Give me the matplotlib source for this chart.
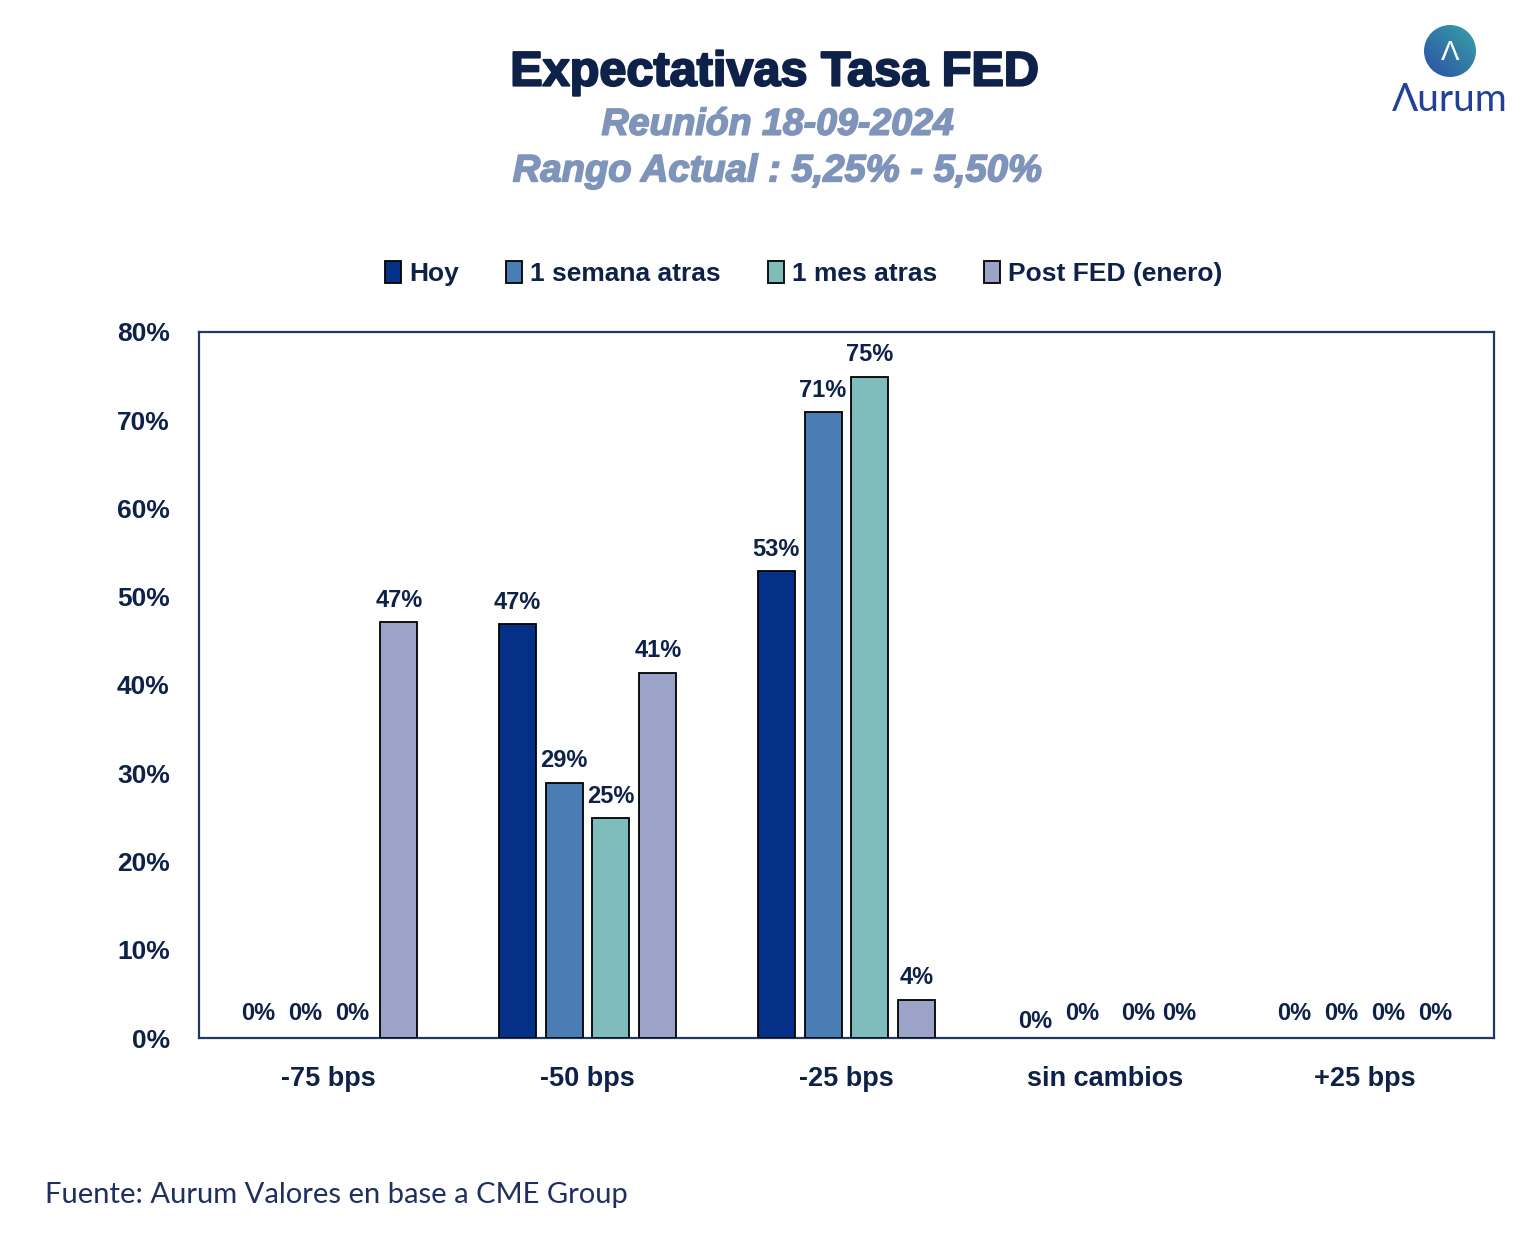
import matplotlib
matplotlib.use("Agg")
import matplotlib.pyplot as plt
import matplotlib.patheffects as pe
import numpy as np
from matplotlib.patches import Circle, Patch

# datos
categorias = ['-75 bps', '-50 bps', '-25 bps', 'sin cambios', '+25 bps']
series = ['Hoy', '1 semana atras', '1 mes atras', 'Post FED (enero)']
hoy = [0.0, 46.9, 52.9, 0.0, 0.0]
semana = [0.0, 28.9, 70.9, 0.0, 0.0]
mes = [0.0, 24.9, 74.9, 0.0, 0.0]
post_fed = [47.1, 41.4, 4.3, 0.0, 0.0]
etiquetas_y = ['0%', '10%', '20%', '30%', '40%', '50%', '60%', '70%', '80%']

colores = ['#043087', '#497DB4', '#7FBCBC', '#9BA3C9']
navy = '#0E2149'
plt.rcParams['font.family'] = ['Liberation Sans', 'DejaVu Sans']

fig = plt.figure(figsize=(15.4, 12.6), dpi=100)
ax = fig.add_axes([199/1540, 1-1038/1260, 1295/1540, 706/1260])

x = np.arange(len(categorias))
ancho = 0.143
paso = 0.181
valores = [hoy, semana, mes, post_fed]
for i, (nombre, vals) in enumerate(zip(series, valores)):
    pos = x + (i - 1.5) * paso
    barras = ax.bar(pos, vals, ancho, color=colores[i], edgecolor='black', linewidth=1.3,
                    zorder=3)
    for b, v in zip(barras, vals):
        if v == 0:
            b.set_linewidth(0)
    for j, (p, v) in enumerate(zip(pos, vals)):
        dy = 1.2
        dx = 0
        if v == 0:
            dy = 1.5
            if j == 3 and i == 0:
                dy = 0.6
            if j == 3 and i == 2:
                dx = 0.035
            if j == 3 and i == 3:
                dx = 0.012
        ax.text(p + dx, v + dy, f'{v:.0f}%', ha='center', va='bottom',
                fontsize=17, fontweight='bold', color=navy, zorder=4)

ax.set_xlim(-0.5, 4.5)
ax.set_ylim(0, 80)
ax.set_yticks(np.arange(0, 81, 10))
ax.set_yticklabels(etiquetas_y)
ax.set_xticks(x)
ax.set_xticklabels(categorias)
ax.tick_params(axis='y', length=0, pad=21, labelsize=19, labelcolor=navy)
ax.tick_params(axis='x', length=0, pad=20, labelsize=19.5, labelcolor=navy)
for lbl in ax.get_xticklabels() + ax.get_yticklabels():
    lbl.set_fontweight('bold')
for s in ax.spines.values():
    s.set_color('#1F3864')
    s.set_linewidth(1.6)

handles = [Patch(facecolor=c, edgecolor='black', linewidth=1.3) for c in colores]
leg = ax.legend(handles, series, loc='center', bbox_to_anchor=(0.467, 1.083), ncol=4,
                frameon=False, prop={'weight': 'bold', 'size': 19}, handlelength=0.6,
                handleheight=0.9, handletextpad=0.3, columnspacing=1.8)
for t in leg.get_texts():
    t.set_color(navy)

fig.text(0.503, 0.942, 'Expectativas Tasa FED', ha='center', va='center',
         fontsize=35, fontweight='heavy', color=navy,
         path_effects=[pe.withStroke(linewidth=1.5, foreground=navy)])
fig.text(0.505, 0.901, 'Reunión 18-09-2024', ha='center', va='center',
         fontsize=27, fontweight='bold', style='italic', color='#7F94BA',
         path_effects=[pe.withStroke(linewidth=1.2, foreground='#7F94BA')])
fig.text(0.505, 0.864, 'Rango Actual : 5,25% - 5,50%', ha='center', va='center',
         fontsize=27.5, fontweight='bold', style='italic', color='#7F94BA',
         path_effects=[pe.withStroke(linewidth=1.2, foreground='#7F94BA')])

fig.text(45/1540, 1-1195/1260, 'Fuente: Aurum Valores en base a CME Group', ha='left',
         va='center', fontsize=21, color='#1F3060', family=['Lato', 'DejaVu Sans'])

# logo
lax = fig.add_axes([1424/1540, 1-78/1260, 52/1540, 54/1260])
grad = np.linspace(0, 1, 100)
img = np.outer(np.ones(100), grad) * 0.5 + np.outer(grad[::-1], np.ones(100)) * 0.5
im = lax.imshow(img, cmap=matplotlib.colors.LinearSegmentedColormap.from_list(
    'g', ['#2B4FA8', '#38A3A5']), extent=(0, 1, 0, 1))
clip = Circle((0.5, 0.5), 0.5, transform=lax.transData)
im.set_clip_path(clip)
lax.text(0.5, 0.47, 'Λ', ha='center', va='center', fontsize=20, color='white')
lax.set_xlim(0, 1)
lax.set_ylim(0, 1)
lax.axis('off')
fig.text(1450/1540, 1-100/1260, 'Λurum', ha='center', va='center', fontsize=28,
         color='#22409A', family=['Lato', 'DejaVu Sans'])

fig.savefig('out.png', dpi=100, facecolor='white')
